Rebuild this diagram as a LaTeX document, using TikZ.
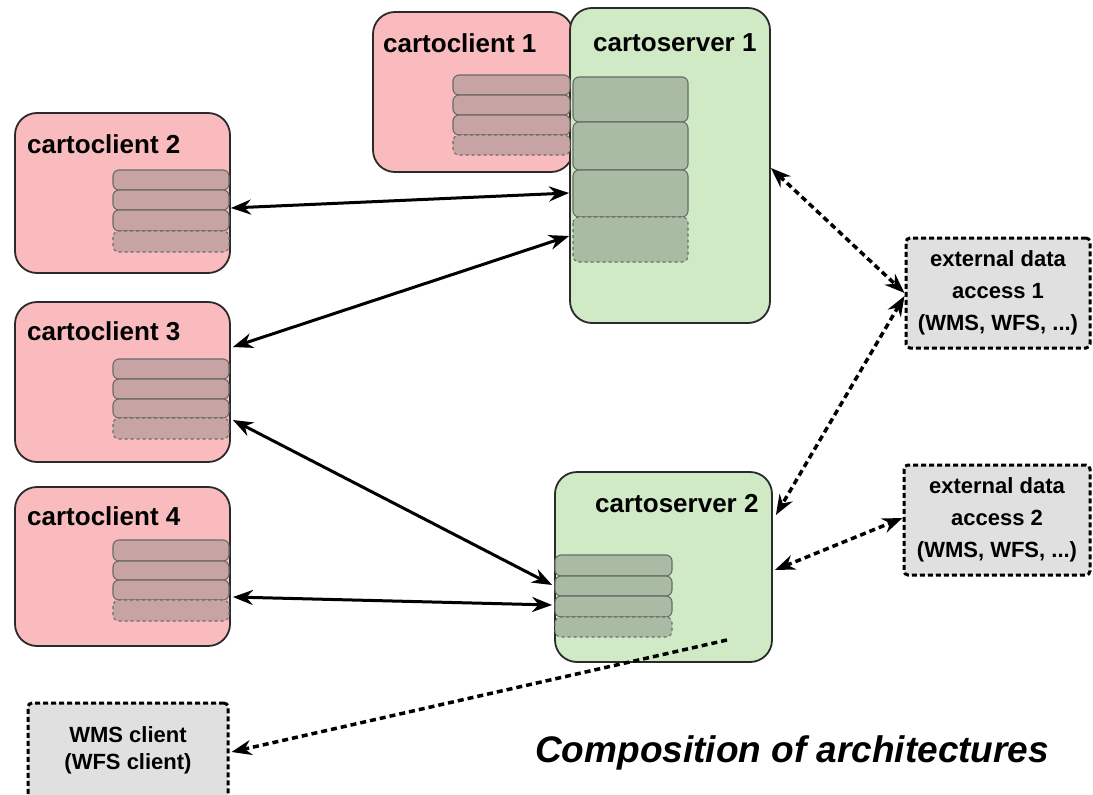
\documentclass[tikz,border=0pt]{standalone}
\usepackage{fontspec}
\setmainfont{Liberation Sans}
\usetikzlibrary{arrows.meta}
\definecolor{clientfill}{HTML}{F9BBBE}
\definecolor{serverfill}{HTML}{D0EAC6}
\definecolor{clientrow}{HTML}{C8A3A4}
\definecolor{serverrow}{HTML}{A9BCA3}
\definecolor{extfill}{HTML}{E0E0E0}
\definecolor{boxline}{HTML}{2A2A2A}
\definecolor{rowline}{HTML}{6A6A6A}
\begin{document}
\begin{tikzpicture}[x=1pt,y=-1pt,
  box/.style={draw=boxline, line width=1.8pt, rounded corners=22pt, inner sep=0pt},
  client/.style={box, fill=clientfill},
  server/.style={box, fill=serverfill},
  ext/.style={draw=black, line width=3pt, dash pattern=on 5pt off 3pt, fill=extfill, rounded corners=4pt, inner sep=0pt},
  extlabel/.style={align=center, inner sep=0pt, font=\fontsize{22}{32}\selectfont\bfseries},
  boxtitle/.style={font=\fontsize{26}{30}\selectfont\bfseries, anchor=base west, inner sep=0pt},
  crow/.style={draw=rowline, line width=1.1pt, fill=clientrow, rounded corners=6pt},
  srow/.style={draw=rowline, line width=1.1pt, fill=serverrow, rounded corners=6pt},
  lastrow/.style={dashed},
  tip/.tip={Stealth[length=20pt,width=15pt]},
  link/.style={line width=3pt, tip-tip},
  dlink/.style={line width=3.5pt, dash pattern=on 6pt off 4pt, tip-tip},
  dlinkone/.style={line width=3.5pt, dash pattern=on 6pt off 4pt, -tip}
]
\useasboundingbox (0,0) rectangle (1093,795);
\fill[white] (0,0) rectangle (1093,795);

% main boxes
\node[client, minimum width=200pt, minimum height=160pt] (c1) at (473,92) {};
\node[server, minimum width=200pt, minimum height=315pt] (s1) at (670,165.5) {};
\node[client, minimum width=215pt, minimum height=160pt] (c2) at (122.5,193) {};
\node[client, minimum width=215pt, minimum height=160pt] (c3) at (122.5,382) {};
\node[client, minimum width=215pt, minimum height=159pt] (c4) at (122.5,566.5) {};
\node[server, minimum width=217pt, minimum height=190pt] (s2) at (663.5,567) {};
\node[ext, minimum width=184pt, minimum height=110pt] (e1) at (998,293) {};
\node[ext, minimum width=186pt, minimum height=110pt] (e2) at (997,520) {};
\node[ext, minimum width=200pt, minimum height=98pt] (wms) at (128,752) {};

% stacks
\draw[crow] (453,75) rectangle (570,95);
\draw[crow] (453,95) rectangle (570,115);
\draw[crow] (453,115) rectangle (570,135);
\draw[crow,lastrow] (453,135) rectangle (570,155);

\draw[srow] (573,77) rectangle (688,122);
\draw[srow] (573,122) rectangle (688,170);
\draw[srow] (573,170) rectangle (688,217);
\draw[srow,lastrow] (573,217) rectangle (688,262);

\draw[crow] (113,170) rectangle (229,190);
\draw[crow] (113,190) rectangle (229,210);
\draw[crow] (113,210) rectangle (229,231);
\draw[crow,lastrow] (113,231) rectangle (229,252);

\draw[crow] (113,359) rectangle (229,379);
\draw[crow] (113,379) rectangle (229,399);
\draw[crow] (113,399) rectangle (229,418);
\draw[crow,lastrow] (113,418) rectangle (229,439);

\draw[crow] (113,540) rectangle (229,561);
\draw[crow] (113,561) rectangle (229,580);
\draw[crow] (113,580) rectangle (229,600);
\draw[crow,lastrow] (113,600) rectangle (229,621);

\draw[srow] (555,555) rectangle (672,576);
\draw[srow] (555,576) rectangle (672,596);
\draw[srow] (555,596) rectangle (672,617);
\draw[srow,lastrow] (555,617) rectangle (672,637);

% titles
\node[boxtitle] (t1) at (383,52) {cartoclient 1};
\node[boxtitle] (t2) at (27,153) {cartoclient 2};
\node[boxtitle] (t3) at (27,340) {cartoclient 3};
\node[boxtitle] (t4) at (27,525) {cartoclient 4};
\node[boxtitle] (ts1) at (593,51) {cartoserver 1};
\node[boxtitle] (ts2) at (595,512) {cartoserver 2};
\node[extlabel] (le1) at (e1.center) {external data\\access 1\\(WMS, WFS, ...)};
\node[extlabel] (le2) at (e2.center) {external data\\access 2\\(WMS, WFS, ...)};
\node[extlabel, font=\fontsize{22}{27}\selectfont\bfseries] (lw) at (128,750) {WMS client\\(WFS client)};

\node[anchor=base west, inner sep=0pt, font=\fontsize{37}{40}\selectfont\bfseries\itshape] (title) at (535,762) {Composition of architectures};

% connectors
\draw[link] ([yshift=-15pt]c2.east) -- ([yshift=-27.5pt]s1.west);
\draw[link] ([yshift=35pt,xshift=2pt]c3.east) -- ([yshift=-70.5pt]s1.west);
\draw[link] ([yshift=-38pt,xshift=2pt]c3.east) -- ([yshift=-18pt,xshift=-2pt]s2.west);
\draw[link] ([yshift=-30.5pt,xshift=2pt]c4.east) -- ([yshift=-38pt,xshift=-2pt]s2.west);

\draw[dlink] ([yshift=-2.5pt]s1.east) -- (e1.west);
\draw[dlink] ([yshift=-3pt]e1.west) -- ([yshift=52pt,xshift=3pt]s2.east);
\draw[dlink] ([yshift=-3pt,xshift=2pt]s2.east) -- ([yshift=2pt]e2.west);
\coordinate (s2out) at (727,640);
\draw[dlinkone] (s2out) -- ([xshift=2pt]wms.east);
\end{tikzpicture}
\end{document}
